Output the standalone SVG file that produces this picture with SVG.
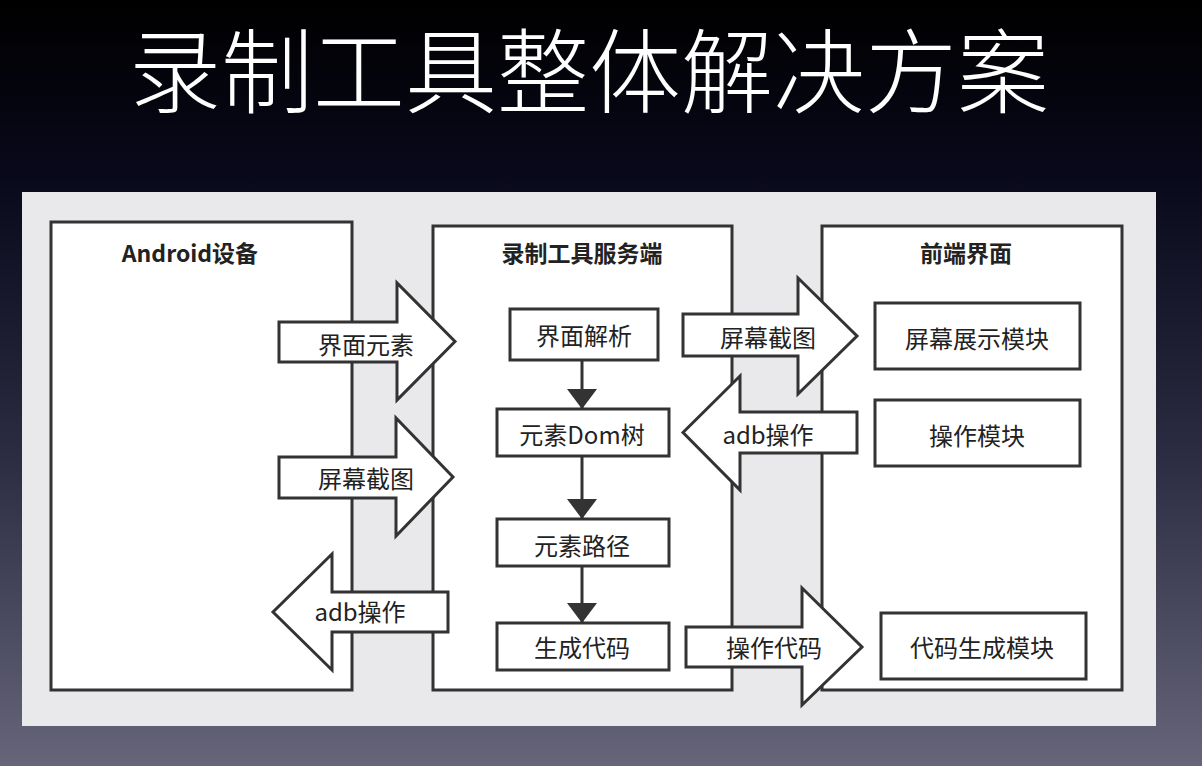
<svg xmlns="http://www.w3.org/2000/svg" width="1202" height="766" viewBox="0 0 1202 766">
<defs>
<linearGradient id="bg" x1="0" y1="0" x2="0" y2="1">
<stop offset="0" stop-color="#000000"/>
<stop offset="0.22" stop-color="#08081a"/>
<stop offset="0.6" stop-color="#2c2c42"/>
<stop offset="1" stop-color="#66657a"/>
</linearGradient>
<marker id="ah" viewBox="0 0 20 30" refX="20" refY="15" markerWidth="20" markerHeight="30" markerUnits="userSpaceOnUse" orient="auto">
<path d="M0,0 L20,15 L0,30 Z" fill="#333"/>
</marker>
<style>
.box{fill:#fff;stroke:#333;stroke-width:3}
.barrow{fill:#fff;stroke:#333;stroke-width:3;stroke-linejoin:miter}
.t{font-family:"Noto Sans CJK SC","Noto Sans",sans-serif;fill:#222;text-anchor:middle;dominant-baseline:central}
.lbl{font-size:24px}
.hd{font-size:23px;font-weight:bold}
.ln{stroke:#333;stroke-width:3;fill:none;marker-end:url(#ah)}
</style>
</defs>
<rect x="0" y="0" width="1202" height="766" fill="url(#bg)"/>
<text x="589" y="65" font-family="Noto Sans CJK SC, sans-serif" font-size="92" font-weight="300" fill="#fff" text-anchor="middle" dominant-baseline="central">录制工具整体解决方案</text>
<rect x="22" y="192" width="1134" height="534" fill="#e9e9eb"/>

<g id="android">
<rect class="box" x="51" y="222" width="301" height="468"/>
<text class="t hd" x="190" y="252">Android设备</text>
</g>
<g id="server">
<rect class="box" x="433" y="226" width="299" height="464"/>
<text class="t hd" x="582" y="252">录制工具服务端</text>
</g>
<g id="frontend">
<rect class="box" x="822" y="226" width="300" height="464"/>
<text class="t hd" x="966" y="252">前端界面</text>
</g>

<g id="parse"><rect class="box" x="510" y="309" width="148" height="51"/><text class="t lbl" x="584" y="334">界面解析</text></g>
<g id="domtree"><rect class="box" x="497" y="409" width="172" height="47"/><text class="t lbl" x="582" y="433">元素Dom树</text></g>
<g id="path"><rect class="box" x="497" y="519" width="172" height="47"/><text class="t lbl" x="582" y="544">元素路径</text></g>
<g id="gencode"><rect class="box" x="497" y="623" width="172" height="47"/><text class="t lbl" x="582" y="646">生成代码</text></g>

<g id="screen"><rect class="box" x="875" y="303" width="205" height="66"/><text class="t lbl" x="977" y="337">屏幕展示模块</text></g>
<g id="opmod"><rect class="box" x="875" y="400" width="205" height="66"/><text class="t lbl" x="977" y="434">操作模块</text></g>
<g id="codemod"><rect class="box" x="881" y="613" width="205" height="66"/><text class="t lbl" x="982" y="646">代码生成模块</text></g>

<g id="connectors">
<line class="ln" x1="582" y1="360" x2="582" y2="409"/>
<line class="ln" x1="582" y1="456" x2="582" y2="519"/>
<line class="ln" x1="582" y1="566" x2="582" y2="623"/>

<path class="barrow" d="M279,322 H397 V283 L455,341.5 L397,400 V362 H279 Z"/>
<text class="t lbl" x="366" y="343">界面元素</text>
<path class="barrow" d="M279,457 H396 V418 L453,477 L396,536 V498 H279 Z"/>
<text class="t lbl" x="366" y="477">屏幕截图</text>
<path class="barrow" d="M448,592 H332 V554 L273,612 L332,670 V632 H448 Z"/>
<text class="t lbl" x="360" y="610">adb操作</text>

<path class="barrow" d="M683,314 H798 V278 L857,336 L798,394 V356 H683 Z"/>
<text class="t lbl" x="768" y="336">屏幕截图</text>
<path class="barrow" d="M857,412 H740 V376 L683,432.5 L740,490 V453 H857 Z"/>
<text class="t lbl" x="768" y="433">adb操作</text>
<path class="barrow" d="M686,627 H802 V588 L862,647 L802,705 V667 H686 Z"/>
<text class="t lbl" x="774" y="646">操作代码</text>
</g>
</svg>
